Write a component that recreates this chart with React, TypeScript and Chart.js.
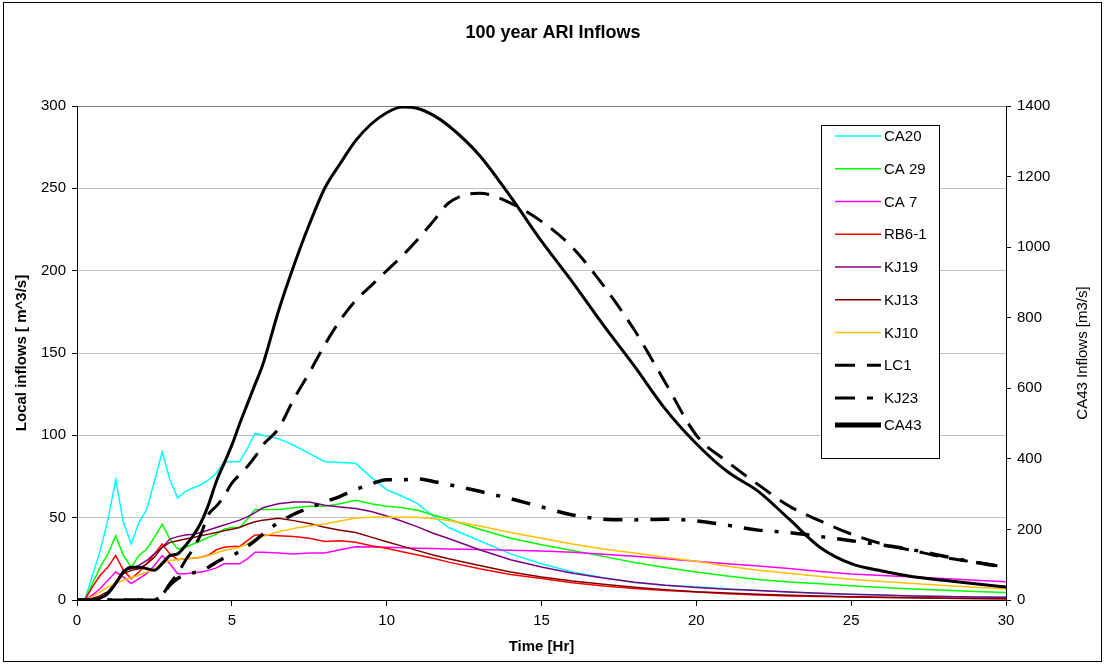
import React, { useEffect, useRef } from 'react';
import { Chart, registerables } from 'chart.js';

Chart.register(...registerables);

// ---------- data ----------
const hours = [
  0, 0.25, 0.5, 0.75, 1, 1.25, 1.5, 1.75, 2, 2.25, 2.5, 2.75, 3, 3.25, 3.5, 3.75, 4, 4.25, 4.5, 4.75, 5, 5.25, 5.5, 5.75, 6,
  6.5, 7, 7.5, 8, 8.5, 9, 9.5, 10, 10.5, 11, 11.5, 12,
  13, 14, 15, 16, 17, 18, 19, 20, 21, 22, 23, 24, 25, 26, 27, 28, 29, 30,
];

// Local inflows (left axis, m^3/s)
const ca20 = [
  0, 0, 15, 30, 49, 73, 47, 34, 47, 55, 72, 90, 73, 62, 66, 68, 70, 73, 77, 84, 84, 84, 92, 101, 100,
  98, 94, 89, 84, 83.5, 83, 74.5, 67, 63, 58.5, 51, 44,
  36, 28, 22, 17, 13.5, 10.7, 9, 8, 6.8, 5.7, 4.8, 4, 3.4, 2.9, 2.5, 2.1, 1.8, 1.6,
];
const ca29 = [
  0, 0, 10, 20, 28, 39, 27, 20, 27, 31, 38, 46, 37, 31, 32, 34, 36, 38, 40, 43, 44, 44, 49, 55, 55,
  55, 56, 57, 57, 58.5, 60.5, 58.5, 57, 56, 54.5, 51.6, 49,
  43, 37.5, 33.5, 30, 26.5, 22.8, 19.8, 17, 14.6, 12.5, 11, 9.8, 8.6, 7.6, 6.7, 5.9, 5.2, 4.5,
];
const ca7 = [
  0, 0, 3, 7, 12, 17, 14, 10, 13, 16, 21, 27, 22, 16, 16, 16.5, 17, 18, 19.5, 22, 22, 22, 25, 29, 29,
  28.5, 28, 28.5, 28.5, 30.5, 32.4, 32.2, 32, 31.8, 31.5, 31.2, 31,
  30.6, 30.2, 29.7, 29, 27.8, 26.5, 25, 23.6, 22, 20.6, 19.2, 17.3, 15.8, 14.9, 14, 13.1, 12, 11.1,
];
const rb61 = [
  0, 0, 8, 15, 20, 27, 18, 13, 17, 22, 28, 34, 28, 24.5, 25, 25.3, 26, 27.3, 30.5, 32, 32.5, 32.5, 36, 39.5, 39.5,
  39, 38.5, 37.5, 35.5, 36, 35, 33, 31.4, 29.3, 27.3, 25.3, 23,
  19, 15.5, 13, 10.5, 8.5, 7, 5.8, 4.8, 3.8, 3, 2.5, 2.1, 1.8, 1.5, 1.3, 1.1, 0.9, 0.8,
];
const kj19 = [
  0, 0, 1, 2.5, 5, 11, 18, 19, 21, 24, 28, 32, 37, 38.5, 39.5, 40, 41, 42.5, 44, 45.5, 47, 48.5, 50.5, 53, 56,
  58.5, 59.5, 59.5, 57.5, 56.5, 55.5, 53.7, 51, 47.8, 44.4, 40.5, 37.3,
  30.5, 24.5, 20, 16.3, 13.3, 10.8, 8.9, 7.6, 6.6, 5.7, 4.8, 4.1, 3.5, 3, 2.5, 2.1, 1.8, 1.6,
];
const kj13 = [
  0, 0, 1, 2.5, 5, 10, 16, 18, 19, 22, 26, 32, 35, 36, 37, 38, 39, 40, 41, 42, 43, 44, 46, 47.5, 48.5,
  49.6, 48.2, 46.5, 44.2, 42.3, 41, 38.2, 35.4, 32.7, 30, 27.3, 25,
  21, 17, 14, 11.5, 9.6, 7.8, 6.3, 5, 4.2, 3.5, 2.9, 2.4, 2, 1.7, 1.4, 1.1, 0.9, 0.7,
];
const kj10 = [
  0, 0, 2, 5, 8, 10, 12, 13.5, 15, 17, 19, 22, 24, 24.5, 25, 25.5, 26, 27, 28.5, 30, 31, 32, 34, 36.5, 38.5,
  41.5, 43.5, 45, 46.2, 48, 49.8, 50.2, 50.3, 50.3, 50.2, 49.5, 48.3,
  45, 41, 37.5, 34, 31, 28.5, 26, 23.5, 20.5, 18, 16.2, 14.3, 12.6, 11.2, 10, 8.8, 7.7, 6.7,
];

// Large inflows (right axis, m3/s)
const lc1 = [
  0, 0, 0, 0, 0, 0, 0, 0, 0, 0, 0, 14, 47, 75, 112, 145, 187, 243, 266, 294, 331, 355, 378, 406, 439,
  485, 569, 644, 723, 793, 849, 891, 933, 975, 1022, 1073, 1125,
  1153, 1125, 1073, 999, 891, 765, 616, 467, 392, 327, 266, 224, 187, 159, 140, 121, 107, 93,
];
const kj23 = [
  0, 0, 0, 0, 0, 0, 0, 0, 0, 0, 0, 14, 42, 61, 70, 77, 82, 93, 107, 119, 126, 138, 152, 168, 187,
  219, 243, 261, 278, 294, 313, 329, 341, 341, 343, 336, 327,
  308, 287, 264, 241, 229, 227, 229, 224, 212, 198, 191, 180, 168, 156, 142, 124, 107, 93,
];
const ca43 = [
  0, 0, 0, 5, 19, 47, 79, 93, 93, 89, 84, 103, 126, 131, 154, 182, 219, 271, 336, 387, 439, 499, 555, 611, 667,
  817, 947, 1064, 1167, 1237, 1302, 1349, 1381, 1397, 1393, 1374, 1344,
  1260, 1143, 1017, 901, 779, 663, 541, 443, 364, 308, 229, 149, 103, 82, 66, 56, 46, 37,
];

const seriesLabels = ['CA20', 'CA 29', 'CA 7', 'RB6-1', 'KJ19', 'KJ13', 'KJ10', 'LC1', 'KJ23', 'CA43'];
const seriesValues = [ca20, ca29, ca7, rb61, kj19, kj13, kj10, lc1, kj23, ca43];

const xMin = 0;
const xMax = 30;
const xStep = 5;
const yMax = 300;
const yStep = 50;
const y1Max = 1400;
const y1Step = 200;

const TITLE = '100 year ARI Inflows';
const X_TITLE = 'Time [Hr]';
const Y_TITLE = 'Local inflows [ m^3/s]';
const Y1_TITLE = 'CA43 Inflows [m3/s]';

// ---------- styles ----------
const FONT = '"Liberation Sans", Arial, Helvetica, sans-serif';
const styles = [
  { color: '#00FFFF', width: 1.5, dash: [], legendWidth: 1.5, legendDash: [], axis: 'y', smooth: false },
  { color: '#00FF00', width: 1.5, dash: [], legendWidth: 1.5, legendDash: [], axis: 'y', smooth: false },
  { color: '#FF00FF', width: 1.5, dash: [], legendWidth: 1.5, legendDash: [], axis: 'y', smooth: false },
  { color: '#FF0000', width: 1.5, dash: [], legendWidth: 1.5, legendDash: [], axis: 'y', smooth: false },
  { color: '#800080', width: 1.5, dash: [], legendWidth: 1.5, legendDash: [], axis: 'y', smooth: false },
  { color: '#800000', width: 1.5, dash: [], legendWidth: 1.5, legendDash: [], axis: 'y', smooth: false },
  { color: '#FFC000', width: 1.5, dash: [], legendWidth: 1.5, legendDash: [], axis: 'y', smooth: false },
  { color: '#000000', width: 3, dash: [19, 11], legendWidth: 3, legendDash: [20, 12], axis: 'y1', smooth: true },
  { color: '#000000', width: 3.5, dash: [19, 12, 4, 12], legendWidth: 3, legendDash: [20, 12, 6, 12], axis: 'y1', smooth: true },
  { color: '#000000', width: 3, dash: [], legendWidth: 5, legendDash: [], axis: 'y1', smooth: true },
];

const decorPlugin = {
  id: 'decor',
  afterDraw(chart: any) {
    const ctx = chart.ctx as CanvasRenderingContext2D;
    const a = chart.chartArea;
    ctx.save();
    // outer frame
    ctx.strokeStyle = '#000';
    ctx.lineWidth = 1;
    ctx.setLineDash([]);
    ctx.strokeRect(3.5, 2.5, chart.width - 8, chart.height - 5);

    ctx.fillStyle = '#000';
    ctx.textAlign = 'center';
    ctx.textBaseline = 'middle';
    ctx.font = `bold 18px ${FONT}`;
    ctx.fillText(TITLE, chart.width / 2, 33);

    ctx.font = `bold 15px ${FONT}`;
    ctx.fillText(X_TITLE, (a.left + a.right) / 2, 647);

    const midY = (a.top + a.bottom) / 2;
    ctx.save();
    ctx.translate(22, midY);
    ctx.rotate(-Math.PI / 2);
    ctx.fillText(Y_TITLE, 0, 0);
    ctx.restore();

    ctx.font = `15px ${FONT}`;
    ctx.save();
    ctx.translate(1083, midY);
    ctx.rotate(-Math.PI / 2);
    ctx.fillText(Y1_TITLE, 0, 0);
    ctx.restore();

    // legend
    const bx = 821.5, by = 125.5, bw = 118, bh = 333;
    ctx.fillStyle = '#fff';
    ctx.fillRect(bx, by, bw, bh);
    ctx.strokeStyle = '#000';
    ctx.lineWidth = 1;
    ctx.strokeRect(bx, by, bw, bh);
    ctx.textAlign = 'left';
    ctx.textBaseline = 'middle';
    ctx.font = `15px ${FONT}`;
    seriesLabels.forEach((lab, i) => {
      const st = styles[i];
      const y = i < 9 ? 136 + 32.75 * i : 425;
      ctx.beginPath();
      ctx.strokeStyle = st.color;
      ctx.lineWidth = st.legendWidth;
      ctx.setLineDash(st.legendDash);
      ctx.moveTo(835, y);
      ctx.lineTo(881, y);
      ctx.stroke();
      ctx.setLineDash([]);
      ctx.fillStyle = '#000';
      ctx.fillText(lab, 884, y + 1);
    });
    ctx.restore();
  },
};

export default function App() {
  const ref = useRef<HTMLCanvasElement | null>(null);

  useEffect(() => {
    if (!ref.current) return;
    const datasets = seriesLabels.map((label, i) => ({
      label,
      data: hours.map((h, k) => ({ x: h, y: seriesValues[i][k] })),
      borderColor: styles[i].color,
      backgroundColor: styles[i].color,
      borderWidth: styles[i].width,
      borderDash: styles[i].dash,
      yAxisID: styles[i].axis,
      pointRadius: 0,
      tension: 0,
      cubicInterpolationMode: styles[i].smooth ? ('monotone' as const) : ('default' as const),
      fill: false,
      order: 9 - i,
    }));

    const tickFont = { family: FONT, size: 15 };
    const plainNum = (v: any) => String(v);
    const chart = new Chart(ref.current, {
      type: 'line',
      data: { datasets },
      options: {
        responsive: false,
        animation: false,
        events: [],
        layout: { padding: { top: 106, left: 0, right: 0, bottom: 0 } },
        plugins: {
          legend: { display: false },
          title: { display: false },
          tooltip: { enabled: false },
        },
        scales: {
          x: {
            type: 'linear',
            min: xMin,
            max: xMax,
            ticks: { stepSize: xStep, color: '#000', font: tickFont, padding: 6, maxRotation: 0, callback: plainNum },
            grid: { drawOnChartArea: false, drawTicks: true, tickLength: 6, tickColor: '#000' },
            border: { display: true, color: '#000', width: 1 },
            afterFit: (s: any) => { s.height = 64; },
          },
          y: {
            type: 'linear',
            position: 'left',
            min: 0,
            max: yMax,
            ticks: { stepSize: yStep, color: '#000', font: tickFont, padding: 6, callback: plainNum },
            grid: {
              color: (c: any) => (c.tick && c.tick.value === yMax ? '#808080' : '#C0C0C0'),
              lineWidth: 1,
              tickLength: 5,
              tickColor: '#000',
            },
            border: { display: true, color: '#000', width: 1 },
            afterFit: (s: any) => { s.width = 77; },
          },
          y1: {
            type: 'linear',
            position: 'right',
            min: 0,
            max: y1Max,
            ticks: { stepSize: y1Step, color: '#000', font: tickFont, padding: 6, callback: plainNum },
            grid: { drawOnChartArea: false, tickLength: 5, tickColor: '#000' },
            border: { display: true, color: '#000', width: 1 },
            afterFit: (s: any) => { s.width = 100; },
          },
        },
      },
      plugins: [decorPlugin],
    });
    return () => chart.destroy();
  }, []);

  return (
    <div style={{ position: 'fixed', left: 0, top: 0, width: 1106, height: 664, background: '#fff' }}>
      <canvas ref={ref} width={1106} height={664} style={{ display: 'block' }} />
    </div>
  );
}
